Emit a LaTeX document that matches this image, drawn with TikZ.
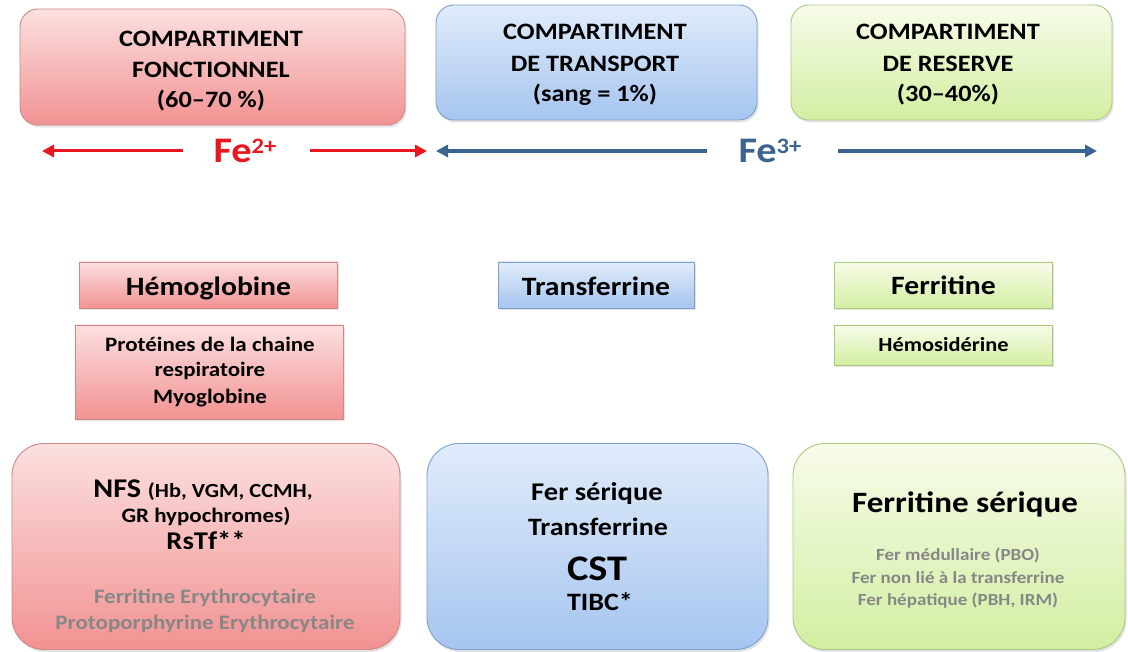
\documentclass[tikz,border=0pt]{standalone}
\usepackage{fontspec}
\setmainfont{Carlito}[FakeStretch=1.12]
\usetikzlibrary{arrows.meta,shadows}
\definecolor{redT}{RGB}{252,224,224}
\definecolor{redB}{RGB}{242,146,146}
\definecolor{redD}{RGB}{208,135,135}
\definecolor{bluT}{RGB}{224,236,251}
\definecolor{bluB}{RGB}{166,197,239}
\definecolor{bluD}{RGB}{126,160,206}
\definecolor{grnT}{RGB}{247,252,234}
\definecolor{grnB}{RGB}{211,238,162}
\definecolor{grnD}{RGB}{172,200,128}
\definecolor{feRed}{RGB}{232,22,30}
\definecolor{feBlue}{RGB}{60,100,145}
\definecolor{txtGray}{RGB}{135,135,135}
\begin{document}
\begin{tikzpicture}[x=1pt,y=-1pt,
  box/.style={draw, line width=0.9pt, inner sep=0pt,
    drop shadow={shadow xshift=1.5pt, shadow yshift=-2.5pt, opacity=0.22}},
  redbox/.style={box, top color=redT, bottom color=redB, draw=redD},
  blubox/.style={box, top color=bluT, bottom color=bluB, draw=bluD},
  grnbox/.style={box, top color=grnT, bottom color=grnB, draw=grnD},
  txt/.style={anchor=base, inner sep=0pt, font=\bfseries\fontsize{#1}{#1}\selectfont},
  gtxt/.style={txt=#1, text=txtGray},
  redarr/.style={draw=feRed, line width=3pt, -{Triangle[length=12pt,width=12pt]}},
  bluarr/.style={draw=feBlue, line width=3.5pt, -{Triangle[length=12pt,width=12pt]}},
]
\useasboundingbox (0,0) rectangle (1128,652);

% top compartments
\node[redbox, rounded corners=18pt, minimum width=385pt, minimum height=116pt] (fonc) at (212.5,67) {};
\node[blubox, rounded corners=18pt, minimum width=321pt, minimum height=115pt] (trans) at (596.5,62.5) {};
\node[grnbox, rounded corners=18pt, minimum width=321pt, minimum height=115pt] (res) at (951.5,62.5) {};

\node[txt=23.5] (f1) at (211,47) {COMPARTIMENT};
\node[txt=23.5] (f2) at (211,78) {FONCTIONNEL};
\node[txt=23.5] (f3) at (211,108) {(60–70 \%)};
\node[txt=23.5] (t1) at (595,40) {COMPARTIMENT};
\node[txt=23.5] (t2) at (595,72) {DE TRANSPORT};
\node[txt=23.5] (t3) at (595,102) {(sang = 1\%)};
\node[txt=23.5] (r1) at (948,40) {COMPARTIMENT};
\node[txt=23.5] (r2) at (948,72) {DE RESERVE};
\node[txt=23.5] (r3) at (948,102) {(30–40\%)};

% Fe arrows
\node[txt=36, text=feRed] (fe2) at (245,163) {Fe\raisebox{9.5pt}{\fontsize{22}{22}\selectfont 2+}};
\coordinate (r2s) at (183,151);
\coordinate (r2e) at (42,151);
\coordinate (r3s) at (310,151);
\coordinate (r3e) at (427,151);
\draw[redarr] (r2s) -- (r2e);
\draw[redarr] (r3s) -- (r3e);

\node[txt=36, text=feBlue] (fe3) at (770,163) {Fe\raisebox{9.5pt}{\fontsize{22}{22}\selectfont 3+}};
\coordinate (b1s) at (707,151);
\coordinate (b1e) at (436,151);
\coordinate (b2s) at (838,151);
\coordinate (b2e) at (1097,151);
\draw[bluarr] (b1s) -- (b1e);
\draw[bluarr] (b2s) -- (b2e);

% middle row
\node[redbox, minimum width=258pt, minimum height=46pt] (hemo) at (208.5,285) {};
\node[txt=26.5] (hemot) at (208.5,296) {Hémoglobine};
\node[redbox, minimum width=268pt, minimum height=94pt] (prot) at (209,372) {};
\node[txt=20.5] (prot1) at (210,352) {Protéines de la chaine};
\node[txt=20.5] (prot2) at (210,377) {respiratoire};
\node[txt=20.5] (prot3) at (210,403) {Myoglobine};

\node[blubox, minimum width=196pt, minimum height=46pt] (tf) at (596,285) {};
\node[txt=26.5] (tft) at (596,296) {Transferrine};

\node[grnbox, minimum width=218pt, minimum height=46pt] (ferr) at (943.5,285) {};
\node[txt=26.5] (ferrt) at (943.5,295) {Ferritine};
\node[grnbox, minimum width=218pt, minimum height=40pt] (hems) at (943.5,345) {};
\node[txt=20] (hemst) at (943.5,352) {Hémosidérine};

% bottom row
\node[redbox, rounded corners=32pt, minimum width=388pt, minimum height=206pt] (bR) at (206,546.5) {};
\node[txt=27] (nfs) at (203,497) {NFS {\fontsize{20}{20}\selectfont (Hb, VGM, CCMH,}};
\node[txt=20.5] (gr) at (206,522) {GR hypochromes)};
\node[txt=25.5] (rstf) at (206,549) {RsTf**};
\node[gtxt=20.5] (fe) at (205,603) {Ferritine Erythrocytaire};
\node[gtxt=20.5] (pe) at (205,629) {Protoporphyrine Erythrocytaire};

\node[blubox, rounded corners=32pt, minimum width=341pt, minimum height=206pt] (bB) at (597.5,546.5) {};
\node[txt=25.5] (fs) at (597,500) {Fer sérique};
\node[txt=25] (tr) at (598,535) {Transferrine};
\node[txt=36] (cst) at (597,580) {CST};
\node[txt=25] (tibc) at (600,610) {TIBC*};

\node[grnbox, rounded corners=32pt, minimum width=332pt, minimum height=206pt] (bG) at (959,546.5) {};
\node[txt=29.5] (fers) at (965,512) {Ferritine sérique};
\node[gtxt=17] (g1) at (958,560) {Fer médullaire (PBO)};
\node[gtxt=17] (g2) at (958,583) {Fer non lié à la transferrine};
\node[gtxt=17] (g3) at (958,605) {Fer hépatique (PBH, IRM)};
\end{tikzpicture}
\end{document}
